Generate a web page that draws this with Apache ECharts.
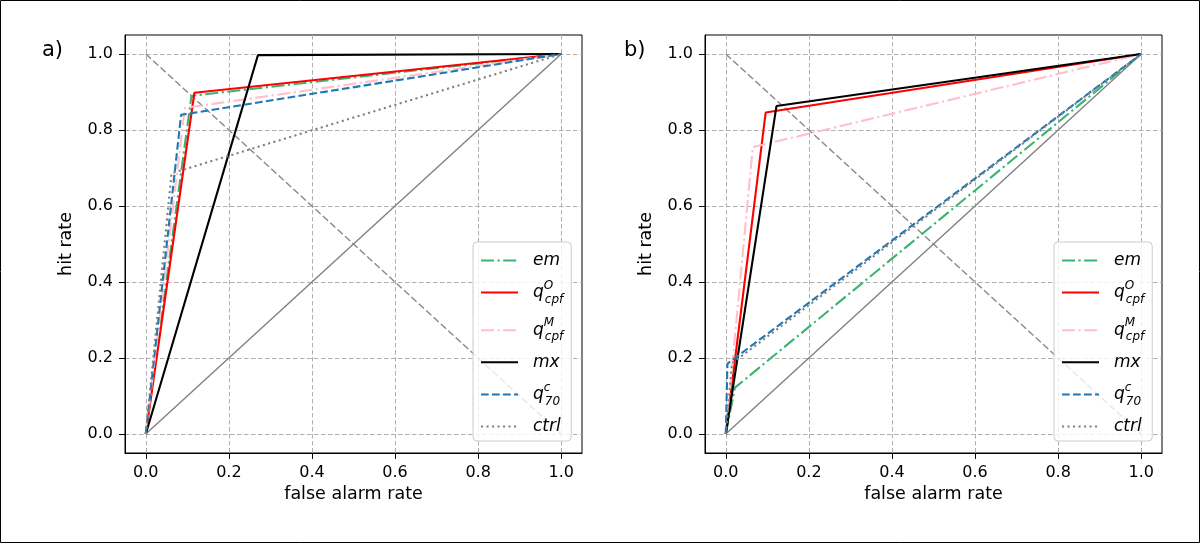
<!DOCTYPE html>
<html><head><meta charset="utf-8">
<script src="https://cdn.jsdelivr.net/npm/echarts@6/dist/echarts.min.js"></script>
<style>html,body{margin:0;padding:0;background:#fff}#c{width:1200px;height:543px}</style>
</head><body><div id="c"></div>
<script>
// ---- data ----
const tickValues = [0, 0.2, 0.4, 0.6, 0.8, 1.0];
const seriesKeys = ['em', 'qO', 'qM', 'mx', 'q70', 'ctrl'];
const panelLabels = ['a)', 'b)'];
const diag = [[0, 0], [1, 1]];
const antiDiag = [[0, 1], [1, 0]];
// panel a
const aEm   = [[0, 0], [0.11, 0.89], [1, 1]];
const aQO   = [[0, 0], [0.117, 0.898], [1, 1]];
const aQM   = [[0, 0], [0.094, 0.858], [1, 1]];
const aMx   = [[0, 0], [0.27, 0.997], [1, 1]];
const aQ70  = [[0, 0], [0.085, 0.84], [1, 1]];
const aCtrl = [[0, 0], [0.062, 0.686], [1, 1]];
// panel b
const bEm   = [[0, 0], [0.022, 0.122], [1, 1]];
const bQO   = [[0, 0], [0.096, 0.846], [1, 1]];
const bQM   = [[0, 0], [0.065, 0.755], [1, 1]];
const bMx   = [[0, 0], [0.122, 0.863], [1, 1]];
const bQ70  = [[0, 0], [0.004, 0.185], [1, 1]];
const bCtrl = [[0, 0], [0.015, 0.186], [1, 1]];

const panelData = [
  [aEm, aQO, aQM, aMx, aQ70, aCtrl],
  [bEm, bQO, bQM, bMx, bQ70, bCtrl]
];

// ---- styles ----
const FONT = 'DejaVu Sans';
const styles = {
  em:   {color: '#3cb371', type: [13, 3.5, 2.2, 3.5]},
  qO:   {color: '#ff0000', type: 'solid'},
  qM:   {color: '#ffc0cb', type: [13, 3.5, 2.2, 3.5]},
  mx:   {color: '#000000', type: 'solid'},
  q70:  {color: '#1f77b4', type: [7.7, 3.3]},
  ctrl: {color: '#808080', type: [2.1, 3.4]}
};
const legendText = {
  em: '{i|em}',
  qO: '{i|q}{sp|O}{sb|cpf}',
  qM: '{i|q}{sp|M}{sb|cpf}',
  mx: '{i|mx}',
  q70: '{i|q}{sp|c}{sb|70}',
  ctrl: '{i|ctrl}'
};

const gridLefts = [125, 705];
const grids = gridLefts.map(l => ({left: l, top: 35, width: 457, height: 418,
  show: true, borderColor: '#000', borderWidth: 1, backgroundColor: 'transparent'}));

function axisCommon(i, name, isY) {
  return {
    type: 'value', gridIndex: i, min: -0.05, max: 1.05,
    name: name, nameLocation: 'middle', nameGap: isY ? 50 : 31,
    nameTextStyle: {fontFamily: FONT, fontSize: 17.5, color: '#000'},
    axisLine: {show: true, onZero: false, lineStyle: {color: '#000', width: 1}},
    axisTick: {show: true, length: 6, customValues: tickValues, lineStyle: {color: '#000', width: 1}},
    axisLabel: {customValues: tickValues, margin: 12, fontFamily: FONT, fontSize: 16, color: '#000',
      formatter: v => v.toFixed(1)},
    splitLine: {show: true, lineStyle: {color: '#b0b0b0', width: 1, type: [4.5, 2.5]}}
  };
}

const series = [];
for (let p = 0; p < 2; p++) {
  series.push({type: 'line', name: '_diag' + p, xAxisIndex: p, yAxisIndex: p, data: diag,
    symbol: 'none', lineStyle: {color: '#808080', width: 1.4}, z: 1, silent: true});
  series.push({type: 'line', name: '_anti' + p, xAxisIndex: p, yAxisIndex: p, data: antiDiag,
    symbol: 'none', lineStyle: {color: '#888888', width: 1.4, type: [7, 3]}, z: 1, silent: true});
  seriesKeys.forEach((k, j) => {
    series.push({type: 'line', name: k, xAxisIndex: p, yAxisIndex: p, data: panelData[p][j],
      symbol: 'none', z: 2 + j,
      lineStyle: {color: styles[k].color, width: 2.1, type: styles[k].type},
      itemStyle: {color: styles[k].color}});
  });
}

const rich = {
  i:  {fontFamily: FONT, fontStyle: 'italic', fontSize: 17, color: '#000', lineHeight: 28, verticalAlign: 'middle'},
  sp: {fontFamily: FONT, fontStyle: 'italic', fontSize: 12, color: '#000', lineHeight: 28, width: 1, verticalAlign: 'top', padding: [1, 0, 0, 0]},
  sb: {fontFamily: FONT, fontStyle: 'italic', fontSize: 12, color: '#000', lineHeight: 28, verticalAlign: 'bottom', padding: [0, 0, 1, 0]}
};

const legendLefts = [473, 1054];
const legends = legendLefts.map(l => ({
  data: seriesKeys, orient: 'vertical', left: l, top: 242,
  padding: [10, 8, 6, 7], itemGap: 9.6, itemWidth: 37, itemHeight: 14,
  backgroundColor: 'rgba(255,255,255,0.8)', borderColor: '#cccccc', borderWidth: 1, borderRadius: 4,
  selectedMode: false,
  itemStyle: {color: 'rgba(0,0,0,0)', borderColor: 'rgba(0,0,0,0)', borderWidth: 0},
  formatter: name => legendText[name],
  textStyle: {fontFamily: FONT, fontSize: 17, color: '#000', padding: [0, 0, 0, 10], rich: rich}
}));

const chart = echarts.init(document.getElementById('c'), null, {renderer: 'canvas'});
chart.setOption({
  animation: false,
  backgroundColor: '#fff',
  textStyle: {fontFamily: FONT},
  grid: grids,
  xAxis: [axisCommon(0, 'false alarm rate', false), axisCommon(1, 'false alarm rate', false)],
  yAxis: [axisCommon(0, 'hit rate', true), axisCommon(1, 'hit rate', true)],
  legend: legends,
  series: series,
  graphic: [
    {type: 'rect', shape: {x: 0.5, y: 0.5, width: 1199, height: 542}, style: {fill: 'none', stroke: '#000', lineWidth: 1}, silent: true},
    {type: 'text', left: 42, top: 40, style: {text: panelLabels[0], font: '21px "DejaVu Sans"', fill: '#000'}},
    {type: 'text', left: 624, top: 40, style: {text: panelLabels[1], font: '21px "DejaVu Sans"', fill: '#000'}}
  ]
});
</script></body></html>
